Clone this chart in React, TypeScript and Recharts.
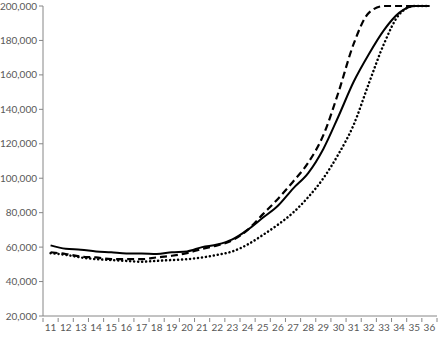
import { LineChart, Line, XAxis, YAxis } from 'recharts'

const ages = [11, 12, 13, 14, 15, 16, 17, 18, 19, 20, 21, 22, 23, 24, 25, 26, 27, 28, 29, 30, 31, 32, 33, 34, 35, 36]

const solid = [
  61000, 59000, 58500, 57500, 57000, 56300, 56300, 56000, 57000, 57500, 60000, 61500, 64500,
  70000, 77000, 84000, 94000, 103000, 117000, 136000, 156000, 172000, 186000, 196000, 200000, 200000,
]
const dashed = [
  57000, 56000, 54500, 54000, 53000, 53000, 53000, 54000, 55000, 56500, 59000, 61000, 64000,
  70000, 79000, 88000, 98000, 109000, 125000, 150000, 178000, 196000, 200000, 200000, 200000, 200000,
]
const dotted = [
  56500, 55500, 54000, 53000, 52500, 52000, 51500, 52000, 52500, 53000, 54000, 55500, 57500,
  61500, 67000, 73000, 80000, 89000, 100000, 114000, 131000, 155000, 178000, 195000, 200000, 200000,
]

const yTicks = [20000, 40000, 60000, 80000, 100000, 120000, 140000, 160000, 180000, 200000]

const data = ages.map((age, i) => ({ age, solid: solid[i], dashed: dashed[i], dotted: dotted[i] }))

const W = 443
const H = 337
const margin = { top: 6, right: 6, left: 0, bottom: 0 }
const yAxisWidth = 43
const axisColor = '#868686'
const textColor = '#595959'
const font = 'Lato, "Open Sans", sans-serif'

// half a category width, for Excel-style tick marks between labels
const halfBand = (W - margin.left - margin.right - yAxisWidth) / ages.length / 2

function AgeTick(props: any) {
  const { x, y, payload, index } = props
  const last = index === ages.length - 1
  return (
    <g>
      <line x1={x - halfBand} x2={x - halfBand} y1={y - 4} y2={y} stroke={axisColor} />
      {last && <line x1={x + halfBand} x2={x + halfBand} y1={y - 4} y2={y} stroke={axisColor} />}
      <text x={x} y={y + 9} textAnchor="middle" fill={textColor} fontSize={10} fontFamily={font}>
        {payload.value}
      </text>
    </g>
  )
}

export default function App() {
  return (
    <div style={{ position: 'absolute', left: 0, top: 0, background: '#fff' }}>
      <LineChart width={W} height={H} data={data} margin={margin}>
        <XAxis
          dataKey="age"
          type="number"
          domain={[10.5, 36.5]}
          ticks={ages}
          interval={0}
          height={21}
          tickLine={false}
          axisLine={{ stroke: axisColor }}
          tick={<AgeTick />}
          tickSize={4}
        />
        <YAxis
          domain={[20000, 200000]}
          ticks={yTicks}
          interval={0}
          width={yAxisWidth}
          tickSize={4}
          tickMargin={2}
          axisLine={{ stroke: axisColor }}
          tickLine={{ stroke: axisColor }}
          tick={{ fill: textColor, fontSize: 10, fontFamily: font }}
          tickFormatter={(v: number) => v.toLocaleString('en-US')}
        />
        <Line
          type="monotone"
          dataKey="dotted"
          stroke="#000"
          strokeWidth={2.5}
          strokeDasharray="0.1 3.9"
          strokeLinecap="round"
          dot={false}
          isAnimationActive={false}
        />
        <Line
          type="monotone"
          dataKey="dashed"
          stroke="#000"
          strokeWidth={2.2}
          strokeDasharray="7 4"
          dot={false}
          isAnimationActive={false}
        />
        <Line
          type="monotone"
          dataKey="solid"
          stroke="#000"
          strokeWidth={2}
          dot={false}
          isAnimationActive={false}
        />
      </LineChart>
    </div>
  )
}
